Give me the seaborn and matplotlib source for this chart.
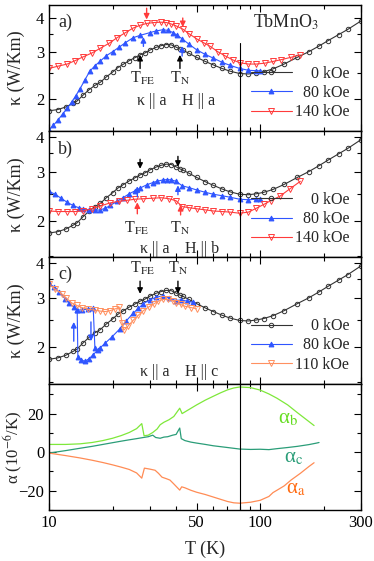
import numpy as np
import pandas as pd
import matplotlib
matplotlib.use("Agg")
import matplotlib.pyplot as plt
import matplotlib.ticker as mticker
import seaborn as sns

# ---- data ----
# zero field, kappa || a (same curve in panels a, b, c)
T_0 = [10, 11, 12, 13, 13.6, 14.5, 15.5, 16.5, 17.5, 18.7, 20, 21.2, 22.4, 24, 25.5, 27, 28.5,
       30, 32, 34, 36, 38, 40, 41.6, 43, 46, 50, 55, 60, 66, 72, 80, 88, 96, 104, 115, 130,
       150, 170, 190, 210, 235, 260, 300]
k_0 = [1.81, 1.83, 1.87, 1.93, 1.97, 2.07, 2.17, 2.25, 2.31, 2.42, 2.52, 2.62, 2.69, 2.78, 2.85,
       2.92, 2.97, 3.04, 3.11, 3.16, 3.19, 3.18, 3.12, 3.07, 3.04, 2.96, 2.86, 2.76, 2.68, 2.6,
       2.54, 2.49, 2.48, 2.5, 2.53, 2.59, 2.7, 2.86, 3.0, 3.15, 3.3, 3.47, 3.63, 3.9]

# panel a: H || a
Ta_80 = [10, 10.5, 11, 11.6, 12.2, 12.8, 13.4, 14, 14.8, 15.6, 16.5, 17.5, 18.7, 20, 21.5, 23,
         25, 27, 30, 32, 34.6, 36.5, 38.8, 40.5, 42.7, 46, 50, 55, 60, 66, 72, 80, 88, 96, 100]
ka_80 = [1.54, 1.6, 1.67, 1.76, 1.85, 1.95, 2.06, 2.18, 2.36, 2.54, 2.66, 2.77, 2.9, 3.0, 3.12,
         3.24, 3.38, 3.45, 3.53, 3.58, 3.62, 3.6, 3.53, 3.45, 3.35, 3.2, 3.05, 2.93, 2.84, 2.74,
         2.67, 2.6, 2.56, 2.55, 2.55]
Ta_140 = [10, 11, 12.2, 13.3, 14.5, 16, 17.5, 19.2, 21, 23, 25, 27, 29, 31.5, 34, 36, 38, 40, 43,
          46, 50, 54, 58, 63, 68, 74, 80, 88, 96, 105, 115, 125, 140, 155]
ka_140 = [2.6, 2.65, 2.7, 2.78, 2.87, 2.97, 3.09, 3.22, 3.38, 3.53, 3.67, 3.76, 3.82, 3.85, 3.86,
          3.85, 3.8, 3.74, 3.64, 3.5, 3.35, 3.24, 3.14, 3.0, 2.9, 2.8, 2.73, 2.7, 2.7, 2.72, 2.76,
          2.8, 2.86, 2.92]

# panel b: H || b
Tb_80 = [10, 10.7, 11.4, 12.2, 13, 13.8, 14.5, 15.5, 16.5, 17.5, 18.5, 19.5, 21, 22.4, 24, 25.5,
         27, 29, 31, 32.5, 34.5, 36.4, 38, 40, 42.7, 46, 50, 55, 60, 66, 72, 80, 88, 96, 100]
kb_80 = [2.55, 2.49, 2.41, 2.33, 2.27, 2.23, 2.21, 2.19, 2.18, 2.19, 2.22, 2.27, 2.35, 2.42, 2.5,
         2.56, 2.62, 2.69, 2.74, 2.77, 2.8, 2.81, 2.8, 2.77, 2.67, 2.63, 2.58, 2.53, 2.49, 2.46,
         2.43, 2.39, 2.38, 2.39, 2.4]
Tb_140 = [10, 11, 12.2, 13.3, 14.5, 16, 17.5, 19.5, 21.5, 23.5, 25.5, 28, 31, 34, 37, 40, 42.7,
          46, 50, 55, 60, 66, 72, 80, 88, 96, 104, 112, 124, 138, 155]
kb_140 = [2.17, 2.16, 2.16, 2.16, 2.17, 2.21, 2.26, 2.32, 2.35, 2.37, 2.39, 2.4, 2.41, 2.42, 2.4,
          2.36, 2.25, 2.23, 2.21, 2.19, 2.17, 2.16, 2.15, 2.13, 2.15, 2.22, 2.29, 2.36, 2.45,
          2.6, 2.77]

# panel c: H || c (hysteresis around 13-22 K)
Tc_80 = [10, 10.6, 11.2, 11.9, 12.5, 13.1, 13.6, 13.7, 14.2, 14.8, 15.5, 16.2, 17, 17.5, 18.5,
         19.8, 21.6, 23.2, 25, 26.5, 28, 30, 32, 34.6, 37, 40, 42, 45, 48]
kc_80 = [3.38, 3.27, 3.14, 2.98, 2.88, 2.78, 2.71, 1.85, 1.8, 1.78, 1.82, 1.88, 1.95, 1.99, 2.07,
         2.17, 2.32, 2.48, 2.64, 2.75, 2.86, 2.95, 3.01, 3.05, 3.0, 2.93, 2.95, 2.92, 2.89]
Tc_80b = [13.6, 14.4, 15.3, 16.2, 16.5]
kc_80b = [2.71, 2.72, 2.73, 2.75, 1.98]
Tc_110 = [10, 10.7, 11.5, 12.1, 12.8, 13.5, 14.3, 15.3, 16.5, 17.5, 18.5, 19.5, 20.6, 21.5, 22.2,
          22.6, 23.7, 25, 26.5, 28, 29.6, 31.5, 33, 34.6, 36.5, 38.5, 40, 42, 44, 47, 50]
kc_110 = [3.35, 3.22, 3.1, 2.99, 2.88, 2.82, 2.77, 2.73, 2.71, 2.69, 2.68, 2.7, 2.74, 2.78, 2.44,
          2.3, 2.38, 2.49, 2.6, 2.7, 2.78, 2.86, 2.92, 2.96, 2.96, 2.93, 2.88, 2.84, 2.8, 2.77, 2.74]

# panel d: thermal expansion
T_ab = [10, 12, 14, 16, 18, 20, 22, 24, 26, 27.5, 28.2, 29.5, 31, 32.5, 33.6, 35, 37, 39, 41.6,
        42.7, 45, 50, 55, 60, 65, 70, 75, 80, 90, 100, 110, 120, 135, 150, 165, 180]
alpha_b = [4.0, 4.0, 4.3, 5.0, 6.0, 7.2, 8.6, 10.2, 12.2, 14.8, 8.5, 8.8, 10.2, 12.0, 14.2, 15.5,
           16.8, 18.5, 22.8, 20.0, 21.5, 24.5, 27.0, 29.0, 30.8, 32.3, 33.3, 33.8, 33.5, 32.2,
           30.2, 28.0, 24.5, 20.5, 17.0, 13.8]
T_ac = [10, 12, 14, 16, 18, 20, 22, 24, 26, 28, 29.5, 31, 32, 33.6, 35, 36.5, 38.5, 40, 41.6,
        42.3, 44, 47, 50, 55, 60, 70, 80, 90, 100, 110, 120, 135, 150, 170, 185, 190]
alpha_c = [-0.5, 0.8, 2.0, 3.0, 4.0, 4.9, 5.7, 6.4, 7.0, 7.6, 8.0, 8.8, 7.6, 7.2, 7.8, 8.0, 8.8,
           9.2, 12.5, 7.0, 6.0, 5.2, 4.7, 4.0, 3.3, 2.4, 1.6, 1.4, 1.5, 1.3, 1.8, 2.4, 3.0, 3.9,
           4.7, 5.0]
T_aa = [10, 12, 14, 16, 18, 20, 22, 24, 26, 27.5, 28.3, 30, 31.8, 33, 34.3, 36, 37.4, 39, 41.6,
        42.5, 44, 47, 50, 55, 60, 65, 70, 75, 80, 90, 100, 110, 115, 120, 130, 140, 155, 170, 180]
alpha_a = [-0.5, -1.8, -3.0, -4.2, -5.4, -6.6, -7.8, -9.0, -10.8, -13.5, -8.3, -8.8, -9.4, -11.0,
           -13.0, -13.8, -14.5, -16.5, -19.7, -18.0, -18.5, -19.8, -20.8, -22.0, -23.3, -24.5,
           -25.6, -26.3, -26.5, -26.0, -25.0, -23.0, -21.0, -19.8, -17.5, -14.5, -11.0, -7.5, -5.5]

BLUE = "#2f55ff"
RED = "#ff3b3b"
ORANGE = "#ff9060"
GREEN = "#7ee83a"
TEAL = "#2a9d78"
OR_A = "#ff8c55"

sns.set_style("ticks")
plt.rcParams["font.family"] = ["Liberation Serif", "DejaVu Serif"]
plt.rcParams["mathtext.fontset"] = "stix"
plt.rcParams["font.size"] = 11.5

fig, axes = plt.subplots(4, 1, sharex=True, figsize=(3.74, 5.61), dpi=100)
fig.subplots_adjust(left=0.131, right=0.965, top=0.991, bottom=0.091, hspace=0)


def curve(ax, T, k, color, marker, filled, label=None, ms=3.5):
    sns.lineplot(x=T, y=k, ax=ax, sort=False, estimator=None, color=color, lw=0.8,
                 marker=marker, markersize=ms, markeredgewidth=0.7,
                 markerfacecolor=color if filled else "none", markeredgecolor=color,
                 label=label, legend=False)


def arrow(ax, T, k_tail, k_head, color):
    ax.annotate("", xy=(T, k_head), xytext=(T, k_tail),
                arrowprops=dict(arrowstyle="-|>", color=color, lw=1.0, mutation_scale=8,
                                shrinkA=0, shrinkB=0))


ax_a, ax_b, ax_c, ax_d = axes

# panel a
curve(ax_a, T_0, k_0, "#333333", "o", False, "    0 kOe", ms=3.2)
curve(ax_a, Ta_80, ka_80, BLUE, "^", True, "  80 kOe")
curve(ax_a, Ta_140, ka_140, RED, "v", False, "140 kOe", ms=4)
arrow(ax_a, 27, 2.6, 2.92, "black")
arrow(ax_a, 41.7, 2.6, 2.92, "black")
arrow(ax_a, 28, 3.14, 3.4, BLUE)
arrow(ax_a, 42.7, 2.89, 3.15, BLUE)
arrow(ax_a, 29, 4.35, 3.95, RED)
arrow(ax_a, 43, 4.0, 3.7, RED)
ax_a.set_ylim(1.52, 4.47)
ax_a.axvline(80, ymin=0, ymax=0.70, color="black", lw=0.8)
ax_a.text(0.03, 0.86, "a)", transform=ax_a.transAxes, fontsize=13, va="center")
ax_a.text(0.76, 0.86, "TbMnO$_3$", transform=ax_a.transAxes, fontsize=13, ha="center", va="center")
ax_a.text(0.30, 0.42, r"T$_{\rm FE}$", transform=ax_a.transAxes, ha="center", va="center")
ax_a.text(0.42, 0.42, r"T$_{\rm N}$", transform=ax_a.transAxes, ha="center", va="center")
ax_a.text(0.33, 0.24, "κ || a", transform=ax_a.transAxes, ha="center", va="center")
ax_a.text(0.48, 0.24, "H || a", transform=ax_a.transAxes, ha="center", va="center")

# panel b
curve(ax_b, T_0, k_0, "#333333", "o", False, "    0 kOe", ms=3.2)
curve(ax_b, Tb_80, kb_80, BLUE, "^", True, "  80 kOe")
curve(ax_b, Tb_140, kb_140, RED, "v", False, "140 kOe", ms=4)
arrow(ax_b, 27, 3.32, 3.07, "black")
arrow(ax_b, 40.8, 3.4, 3.12, "black")
arrow(ax_b, 26.2, 2.44, 2.66, BLUE)
arrow(ax_b, 40.8, 2.48, 2.68, BLUE)
arrow(ax_b, 26.2, 2.12, 2.33, RED)
arrow(ax_b, 42, 2.1, 2.28, RED)
ax_b.set_ylim(1.48, 4.18)
ax_b.axvline(80, color="black", lw=0.8)
ax_b.text(0.03, 0.86, "b)", transform=ax_b.transAxes, fontsize=13, va="center")
ax_b.text(0.28, 0.23, r"T$_{\rm FE}$", transform=ax_b.transAxes, ha="center", va="center")
ax_b.text(0.42, 0.23, r"T$_{\rm N}$", transform=ax_b.transAxes, ha="center", va="center")
ax_b.text(0.34, 0.07, "κ || a", transform=ax_b.transAxes, ha="center", va="center")
ax_b.text(0.49, 0.07, "H || b", transform=ax_b.transAxes, ha="center", va="center")

# panel c
curve(ax_c, T_0, k_0, "#333333", "o", False, "    0 kOe", ms=3.2)
curve(ax_c, Tc_80, kc_80, BLUE, "^", True, "  80 kOe")
curve(ax_c, Tc_80b, kc_80b, BLUE, "^", True)
curve(ax_c, Tc_110, kc_110, ORANGE, "v", False, "110 kOe", ms=4)
arrow(ax_c, 27, 3.44, 3.1, "black")
arrow(ax_c, 40.8, 3.44, 3.1, "black")
arrow(ax_c, 13.1, 2.1, 2.46, BLUE)
arrow(ax_c, 15.8, 2.46, 2.1, BLUE)
ax_c.set_ylim(1.48, 4.18)
ax_c.axvline(80, color="black", lw=0.8)
ax_c.text(0.03, 0.87, "c)", transform=ax_c.transAxes, fontsize=13, va="center")
ax_c.text(0.30, 0.91, r"T$_{\rm FE}$", transform=ax_c.transAxes, ha="center", va="center")
ax_c.text(0.415, 0.91, r"T$_{\rm N}$", transform=ax_c.transAxes, ha="center", va="center")
ax_c.text(0.34, 0.09, "κ || a", transform=ax_c.transAxes, ha="center", va="center")
ax_c.text(0.49, 0.09, "H || c", transform=ax_c.transAxes, ha="center", va="center")

for ax in (ax_a, ax_b, ax_c):
    ax.set_yscale("log")
    ax.yaxis.set_major_locator(mticker.FixedLocator([2, 3, 4]))
    ax.yaxis.set_major_formatter(mticker.FixedFormatter(["2", "3", "4"]))
    ax.yaxis.set_minor_locator(mticker.FixedLocator([1.5, 2.5, 3.5]))
    ax.yaxis.set_minor_formatter(mticker.NullFormatter())
    ax.set_ylabel("κ (W/Km)", fontsize=13)
    ax.legend(loc="lower right", bbox_to_anchor=(1.0, 0.0), frameon=False, fontsize=11.5,
              handlelength=2.6, labelspacing=0.2, borderaxespad=0.3, handletextpad=0.2)

# panel d
sns.lineplot(x=T_ab, y=alpha_b, ax=ax_d, sort=False, estimator=None, color=GREEN, lw=0.9)
sns.lineplot(x=T_ac, y=alpha_c, ax=ax_d, sort=False, estimator=None, color=TEAL, lw=0.9)
sns.lineplot(x=T_aa, y=alpha_a, ax=ax_d, sort=False, estimator=None, color=OR_A, lw=0.9)
ax_d.axvline(80, color="black", lw=0.8)
ax_d.set_ylim(-30, 35.5)
ax_d.yaxis.set_major_locator(mticker.FixedLocator([-20, 0, 20]))
ax_d.yaxis.set_minor_locator(mticker.FixedLocator([-30, -10, 10, 30]))
ax_d.set_ylabel("α (10$^{-6}$/K)", fontsize=12)
ax_d.text(0.765, 0.72, r"α$_{\rm b}$", transform=ax_d.transAxes, color="#66dd22", fontsize=15,
          ha="center", va="center")
ax_d.text(0.785, 0.41, r"α$_{\rm c}$", transform=ax_d.transAxes, color=TEAL, fontsize=15,
          ha="center", va="center")
ax_d.text(0.79, 0.17, r"α$_{\rm a}$", transform=ax_d.transAxes, color="#ff6a10", fontsize=15,
          ha="center", va="center")

ax_d.set_xscale("log")
ax_d.set_xlim(10, 300)
ax_d.xaxis.set_major_locator(mticker.FixedLocator([10, 50, 100, 300]))
ax_d.xaxis.set_major_formatter(mticker.FixedFormatter(["10", "50", "100", "300"]))
ax_d.xaxis.set_minor_locator(mticker.FixedLocator([20, 30, 40, 60, 70, 80, 90, 200]))
ax_d.xaxis.set_minor_formatter(mticker.NullFormatter())
ax_d.set_xlabel("T (K)", fontsize=13, labelpad=7)

for ax in axes:
    ax.yaxis.set_label_coords(-0.078, 0.5)
    ax.tick_params(which="both", direction="in", top=True, right=True, labelsize=12,
                   colors="black", width=0.8)
    ax.tick_params(which="major", length=5)
    ax.tick_params(which="minor", length=3)
    for sp in ax.spines.values():
        sp.set_linewidth(1.0)
        sp.set_color("black")

fig.savefig("out.png", dpi=100)
